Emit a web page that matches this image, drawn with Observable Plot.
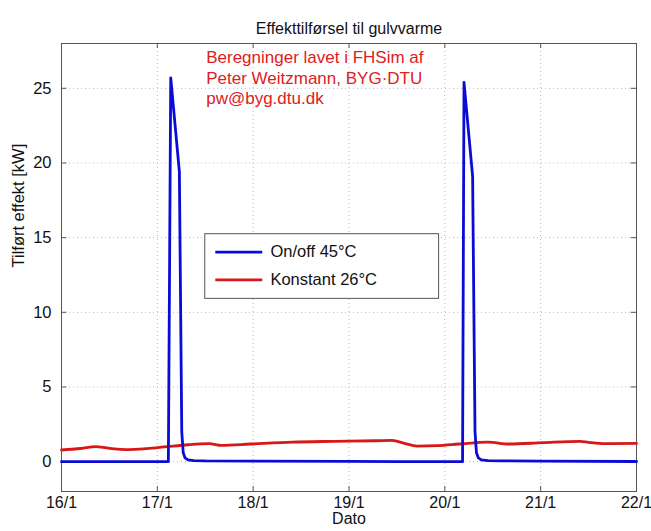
<!DOCTYPE html>
<html>
<head>
<meta charset="utf-8">
<script src="https://cdn.jsdelivr.net/npm/d3@7"></script>
<script src="https://cdn.jsdelivr.net/npm/@observablehq/plot@0.6"></script>
<style>
  body { margin: 0; background: #fff; }
  #chart svg { display: block; }
</style>
</head>
<body>
<div id="chart"></div>
<script>
// Tick labels (x = days from 16/1)
const xTickDays = [0, 1, 2, 3, 4, 5, 6];
const xTickLabels = ["16/1", "17/1", "18/1", "19/1", "20/1", "21/1", "22/1"];
const yTicks = [0, 5, 10, 15, 20, 25];

// Series: On/off 45°C  (day offset, kW)
const onoffDays = [0, 1.115, 1.14, 1.23, 1.255, 1.27, 1.29, 1.32, 1.38, 1.5, 2.0, 3.0, 3.5, 4.185, 4.2, 4.29, 4.315, 4.33, 4.35, 4.38, 4.45, 4.6, 5.0, 6.0];
const onoffKW   = [0, 0, 25.7, 19.4, 2.0, 0.6, 0.25, 0.12, 0.07, 0.05, 0.04, 0.02, 0.0, 0, 25.4, 19.1, 2.0, 0.6, 0.25, 0.12, 0.07, 0.05, 0.03, 0.01];

// Series: Konstant 26°C
const konstDays = [0, 0.2, 0.36, 0.43, 0.55, 0.67, 0.89, 1.1, 1.32, 1.54, 1.67, 1.97, 2.41, 2.84, 3.28, 3.45, 3.58, 3.71, 3.93, 4.15, 4.45, 4.67, 5.02, 5.41, 5.5, 5.67, 6.0];
const konstKW   = [0.78, 0.88, 1.0, 0.96, 0.85, 0.8, 0.87, 1.0, 1.13, 1.2, 1.09, 1.18, 1.31, 1.36, 1.4, 1.42, 1.22, 1.04, 1.07, 1.18, 1.31, 1.18, 1.27, 1.36, 1.29, 1.2, 1.22];

const seriesNames = ["On/off 45°C", "Konstant 26°C"];
const seriesColors = ["#0b0bd6", "#d81818"];

const titleText = "Effekttilførsel til gulvvarme";
const xLabel = "Dato";
const yLabel = "Tilført effekt [kW]";
const noteText = "Beregninger lavet i FHSim af\nPeter Weitzmann, BYG·DTU\npw@byg.dtu.dk";

// Build tables
const onoff = onoffDays.map((d, i) => ({day: d, kw: onoffKW[i], s: seriesNames[0]}));
const konst = konstDays.map((d, i) => ({day: d, kw: konstKW[i], s: seriesNames[1]}));

const legendItems = seriesNames.map((name, i) => ({name, color: seriesColors[i], ly: [14.03, 12.17][i]}));

const FONT = "'Liberation Sans', Arial, Helvetica, sans-serif";
const FS = 16.5;
const gridStyle = {stroke: "#b8b8b8", strokeDasharray: "1,3", strokeOpacity: 1, strokeWidth: 1};

const chart = Plot.plot({
  width: 651,
  height: 531,
  marginLeft: 61,
  marginRight: 15,
  marginTop: 43,
  marginBottom: 40,
  style: {fontFamily: FONT, fontSize: FS + "px", color: "#111", background: "#fff"},
  x: {domain: [0, 6]},
  y: {domain: [-2, 28]},
  marks: [
    // grid
    Plot.ruleX(xTickDays.slice(1, -1), {...gridStyle}),
    Plot.ruleY(yTicks, {...gridStyle}),
    // inward ticks
    Plot.ruleY(yTicks, {x1: 0, x2: 0.055, stroke: "#555"}),
    Plot.ruleY(yTicks, {x1: 5.945, x2: 6, stroke: "#555"}),
    Plot.ruleX(xTickDays, {y1: -2, y2: -1.67, stroke: "#555"}),
    Plot.ruleX(xTickDays, {y1: 27.67, y2: 28, stroke: "#555"}),
    Plot.frame({stroke: "#555"}),
    // axes
    Plot.axisX(xTickDays, {tickSize: 0, tickPadding: 5, tickFormat: (d) => xTickLabels[xTickDays.indexOf(d)], fontSize: 16, label: null}),
    Plot.axisY(yTicks, {tickSize: 0, tickPadding: 10, fontSize: FS, label: null}),
    Plot.text([xLabel], {frameAnchor: "bottom", dy: 32, fontSize: 16, fill: "#111"}),
    Plot.text([yLabel], {frameAnchor: "left", dx: -43, rotate: -90, fontSize: FS, fill: "#111"}),
    Plot.text([titleText], {frameAnchor: "top", dy: -21, fontSize: 16, fill: "#111"}),
    // data
    Plot.line(konst, {x: "day", y: "kw", stroke: seriesColors[1], strokeWidth: 2.8, curve: "monotone-x"}),
    Plot.line(onoff, {x: "day", y: "kw", stroke: seriesColors[0], strokeWidth: 2.8}),
    // annotation
    Plot.text([noteText], {x: 1.51, y: 27.65, textAnchor: "start", lineAnchor: "top", lineHeight: 1.2, fontSize: 17, fill: "#e0201c"}),
    // legend
    Plot.rect([0], {x1: 1.50, x2: 3.94, y1: 10.9, y2: 15.23, fill: "#fff", stroke: "#555"}),
    Plot.ruleY(legendItems, {y: "ly", x1: 1.61, x2: 2.10, stroke: "color", strokeWidth: 2.8}),
    Plot.text(legendItems, {x: 2.18, y: "ly", text: "name", textAnchor: "start", fontSize: FS, fill: "#111"})
  ]
});

document.getElementById("chart").appendChild(chart);
</script>
</body>
</html>
